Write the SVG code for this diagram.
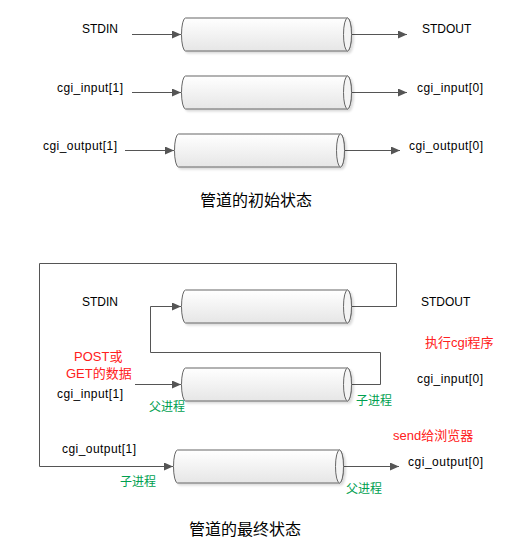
<svg xmlns="http://www.w3.org/2000/svg" xmlns:xlink="http://www.w3.org/1999/xlink" width="528" height="554" viewBox="0 0 528 554">
<style>
text{font-family:"Liberation Sans","Noto Sans CJK SC",sans-serif;font-size:12px;fill:#000}
.red{fill:#ff2020;font-size:13px}
.green{fill:#00a050}
.title{font-size:16px}
.body{fill:url(#g);stroke:#666;stroke-width:1}
.cap{fill:#f4f4f4;stroke:#666;stroke-width:1}
.conn{fill:none;stroke:#555;stroke-width:1}
</style>
<defs>
<linearGradient id="g" x1="0" y1="0" x2="0" y2="1">
<stop offset="0" stop-color="#ffffff"/>
<stop offset="1" stop-color="#e6e6e6"/>
</linearGradient>
<filter id="sh" x="-10%" y="-20%" width="130%" height="150%">
<feDropShadow dx="2" dy="2" stdDeviation="1.2" flood-color="#000" flood-opacity="0.15"/>
</filter>
<marker id="ar" markerWidth="10" markerHeight="10" refX="9" refY="4" orient="auto" markerUnits="userSpaceOnUse">
<path d="M0,0 L9,4 L0,8 Z" fill="#555"/>
</marker>
<g id="pipe">
<path class="body" d="M4,0 H166 A4,16.5 0 0 1 166,33 H4 A4,16.5 0 0 1 4,0 Z" filter="url(#sh)"/>
<ellipse class="cap" cx="166" cy="16.5" rx="4" ry="16.5"/>
</g>
</defs>
<rect width="528" height="554" fill="#fff"/>

<g id="connectors">
<line class="conn" x1="132" y1="34.5" x2="181" y2="34.5" marker-end="url(#ar)"/>
<line class="conn" x1="351" y1="34.5" x2="407" y2="34.5" marker-end="url(#ar)"/>
<line class="conn" x1="132" y1="92.5" x2="181" y2="92.5" marker-end="url(#ar)"/>
<line class="conn" x1="351" y1="92.5" x2="407" y2="92.5" marker-end="url(#ar)"/>
<line class="conn" x1="125" y1="150.5" x2="174" y2="150.5" marker-end="url(#ar)"/>
<line class="conn" x1="344" y1="150.5" x2="400" y2="150.5" marker-end="url(#ar)"/>
<path class="conn" d="M351,306.5 H396.5 V263.5 H39.5 V466.5 H173" marker-end="url(#ar)"/>
<path class="conn" d="M351,384.5 H380.5 V352.5 H150.5 V306.5 H181" marker-end="url(#ar)"/>
<line class="conn" x1="135" y1="384.5" x2="181" y2="384.5" marker-end="url(#ar)"/>
<line class="conn" x1="343" y1="466.5" x2="399" y2="466.5" marker-end="url(#ar)"/>
</g>

<g id="pipe-stdin-init"><use xlink:href="#pipe" transform="translate(181.5,18)"/></g>
<g id="pipe-input-init"><use xlink:href="#pipe" transform="translate(181.5,76)"/></g>
<g id="pipe-output-init"><use xlink:href="#pipe" transform="translate(174.5,134)"/></g>
<g id="pipe-stdin-final"><use xlink:href="#pipe" transform="translate(181.5,290)"/></g>
<g id="pipe-input-final"><use xlink:href="#pipe" transform="translate(181.5,368)"/></g>
<g id="pipe-output-final"><use xlink:href="#pipe" transform="translate(173.5,450)"/></g>

<g id="labels-init">
<text x="82" y="33">STDIN</text>
<text x="422" y="33">STDOUT</text>
<text x="57" y="92" textLength="66" lengthAdjust="spacing">cgi_input[1]</text>
<text x="417" y="92" textLength="66" lengthAdjust="spacing">cgi_input[0]</text>
<text x="43" y="150" textLength="74" lengthAdjust="spacing">cgi_output[1]</text>
<text x="409" y="150" textLength="74" lengthAdjust="spacing">cgi_output[0]</text>
<text class="title" x="200" y="206">管道的初始状态</text>
</g>

<g id="labels-final">
<text x="82" y="306">STDIN</text>
<text x="421" y="306">STDOUT</text>
<text class="red" x="425" y="347">执行cgi程序</text>
<text class="red" x="74" y="361">POST或</text>
<text class="red" x="66" y="378">GET的数据</text>
<text x="57" y="398" textLength="66" lengthAdjust="spacing">cgi_input[1]</text>
<text class="green" x="149" y="411">父进程</text>
<text class="green" x="356" y="405">子进程</text>
<text x="417" y="383" textLength="66" lengthAdjust="spacing">cgi_input[0]</text>
<text class="red" x="393" y="440">send给浏览器</text>
<text x="62" y="453" textLength="74" lengthAdjust="spacing">cgi_output[1]</text>
<text x="408" y="466" textLength="75" lengthAdjust="spacing">cgi_output[0]</text>
<text class="green" x="120" y="486">子进程</text>
<text class="green" x="346" y="493">父进程</text>
<text class="title" x="189" y="535">管道的最终状态</text>
</g>
</svg>
